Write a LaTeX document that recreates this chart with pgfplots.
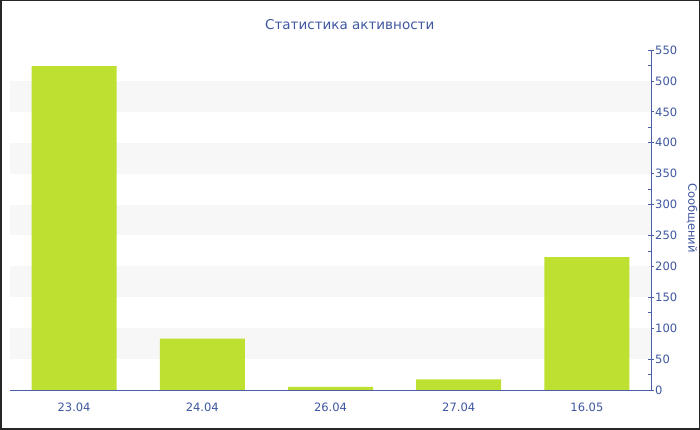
\documentclass[border=0pt]{standalone}
\usepackage{fontspec}
\setmainfont{DejaVu Sans}
\usepackage{pgfplots}
\pgfplotsset{compat=1.18}
\definecolor{txt}{HTML}{3E56A0}
\definecolor{axisblue}{HTML}{4A5FA5}
\definecolor{bar}{HTML}{BDE031}
\definecolor{band}{HTML}{F7F7F7}
\begin{document}
\begin{tikzpicture}[x=1pt,y=1pt]
\useasboundingbox (-10,-40) rectangle (690,390);
\begin{axis}[
    at={(0,0)}, anchor=south west,
    scale only axis,
    width=641pt, height=340pt,
    xmin=-0.5, xmax=4.5,
    ymin=0, ymax=550,
    axis y line*=right,
    axis x line*=bottom,
    axis line style={axisblue, line width=0.8pt},
    xtick=data,
    xticklabels={23.04,24.04,26.04,27.04,16.05},
    x tick style={draw=none},
    ytick={0,50,...,550},
    minor y tick num=1,
    y tick style={axisblue, line width=0.8pt},
    major tick length=6pt,
    minor tick length=3pt,
    tick align=center,
    minor y tick style={xshift=-1.5pt},
    ticklabel style={font=\fontsize{11.5}{13}\selectfont, text=txt},
    yticklabel style={anchor=west, xshift=1pt, inner sep=0pt},
    xticklabel style={yshift=-6pt},
    /pgf/number format/assume math mode=true,
    title={Статистика активности},
    title style={font=\fontsize{13.5}{16}\selectfont, text=txt,
        at={(axis description cs:0.530,1)}, anchor=center, yshift=19pt},
]
\fill[band] (axis cs:-0.5,50) rectangle (axis cs:4.5,100);
\fill[band] (axis cs:-0.5,150) rectangle (axis cs:4.5,200);
\fill[band] (axis cs:-0.5,250) rectangle (axis cs:4.5,300);
\fill[band] (axis cs:-0.5,350) rectangle (axis cs:4.5,400);
\fill[band] (axis cs:-0.5,450) rectangle (axis cs:4.5,500);
\addplot[ybar, bar width=85pt, fill=bar, draw=none]
    coordinates {(0,524) (1,83) (2,5) (3,17) (4,215)};
\end{axis}
\node[rotate=-90, text=txt, font=\fontsize{11.5}{13}\selectfont] at (682,172) {Сообщений};
\draw[line width=1.5pt, black!85] (-9.25,-39.25) rectangle (689.25,389.25);
\end{tikzpicture}
\end{document}
